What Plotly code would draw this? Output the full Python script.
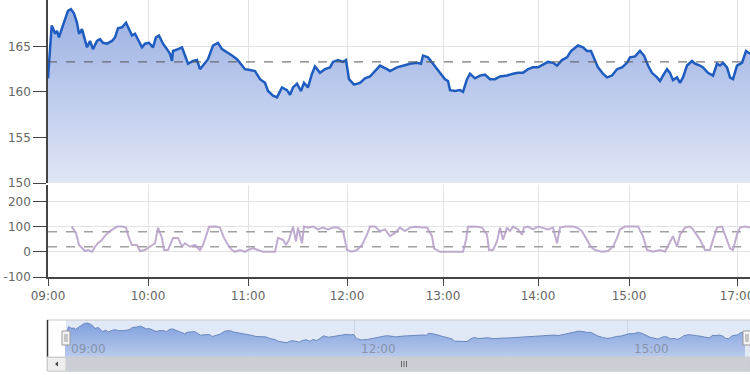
import plotly.graph_objects as go

# ---------------- data ----------------
# ordinal session position (minutes-equivalent on the ordinal time axis)
price_t = [0, 2.2, 3, 4.2, 5.4, 6.6, 8.4, 10.2, 12, 13.8,
           15.6, 17.4, 18.6, 20.4, 22.2, 23.4, 25.2, 27, 29.4, 31.2,
           33, 35.4, 38.4, 40.2, 42, 44.4, 46.8, 48, 50.4, 52.2,
           54, 56.4, 58.2, 60.6, 63, 64.8, 66.6, 69, 71.4, 73.2,
           74.4, 75, 78, 80.4, 82.2, 84, 87, 89.4, 91.2, 93,
           96, 99, 102, 104.4, 107.4, 110.4, 113.4, 116.4, 118.2, 121.2,
           124.2, 127.2, 130.2, 132, 135, 137.4, 140.4, 143.4, 145.2, 147,
           149.4, 151.8, 153.6, 156, 158.4, 160.2, 163.2, 166.2, 169.2, 171,
           174, 177, 178.8, 180.6, 183.6, 187.2, 190.2, 193.2, 196.2, 199.2,
           203.4, 205.2, 209.4, 213, 217.2, 221.4, 223.8, 225, 228, 231,
           235.2, 238.2, 240, 241.2, 244.2, 247.2, 249, 251.4, 253.2, 256.2,
           259.2, 262.2, 265.2, 268.2, 271.2, 275.4, 279, 282, 285, 288,
           291, 294, 297, 300, 303, 305.4, 308.4, 311.4, 313.8, 316.2,
           318, 321, 323.4, 325.8, 327.6, 330, 333, 335.4, 338.4, 341.4,
           344.4, 347.4, 349.2, 352.2, 355.2, 357.6, 360, 362.4, 365.4, 367.2,
           369, 371.4, 373.2, 375, 377.4, 379.2, 381, 383.4, 386.4, 388.2,
           391.2, 393, 396, 399, 401.4, 403.2, 405, 407.4, 409.2, 411,
           413.4, 416.4, 418.8, 421.2]
price_v = [161.5, 167.3, 167, 166.4, 166.7, 166, 167, 168, 168.9, 169.1,
           168.6, 167.6, 166.4, 166.9, 165.8, 164.9, 165.6, 164.7, 165.6, 165.8,
           165.4, 165.3, 165.6, 166, 167, 167.1, 167.6, 167.1, 166.2, 166.4,
           165.8, 164.9, 165.3, 165.4, 164.9, 166, 166.2, 165.3, 164.7, 164.2,
           163.4, 164.5, 164.7, 164.9, 164, 163.1, 163.4, 163.5, 162.5, 162.9,
           163.6, 165.1, 165.4, 164.7, 164.3, 164, 163.6, 162.9, 162.5, 162.4,
           162.3, 161.4, 161, 160.1, 159.6, 159.4, 160.5, 160.2, 159.7, 160.5,
           160.9, 160.1, 161, 160.5, 162, 162.8, 162.1, 162.5, 162.7, 163.3,
           163.5, 163.3, 163.5, 161.4, 160.8, 161, 161.5, 161.7, 162.3, 162.9,
           162.5, 162.3, 162.7, 162.9, 163.1, 163.2, 163.1, 164, 163.8, 163.1,
           162.1, 161.4, 161.2, 160.2, 160.1, 160.2, 160, 161.4, 162, 161.5,
           161.8, 161.9, 161.4, 161.4, 161.7, 161.8, 162, 162.1, 162.1, 162.5,
           162.7, 162.7, 163, 163.3, 163.2, 162.9, 163.5, 163.8, 164.5, 164.9,
           165.1, 164.9, 164.5, 164.5, 163.8, 162.7, 162, 161.6, 161.8, 162.5,
           162.7, 163.2, 163.8, 163.9, 164.5, 164, 162.9, 162.1, 161.6, 161.2,
           161.8, 162.5, 162.1, 161.3, 161.6, 161, 161.6, 162.9, 163.4, 163.1,
           162.9, 162.7, 162.1, 161.8, 163.1, 162.9, 163.2, 162.7, 161.6, 161.4,
           162.9, 163.2, 164.5, 164.2]

stoch_t = [14.2, 16.8, 18.6, 20.4, 22.2, 24, 26.4, 28.2, 30, 32.4,
           34.8, 37.2, 39.6, 41.4, 44.4, 46.8, 48.6, 50.4, 53.4, 55.2,
           58.2, 61.2, 64.2, 66, 68.4, 69.6, 72, 75, 78, 80.4,
           82.2, 85.2, 88.2, 91.2, 93, 94.8, 96.6, 100.8, 103.2, 105.6,
           108, 110.4, 112.2, 115.2, 118.2, 120, 123, 126, 129, 133.2,
           136.2, 138, 141, 142.8, 144.6, 147, 148.8, 150, 152.4, 153.6,
           156, 159, 162, 165, 168, 171, 174, 177, 179.4, 182.4,
           185.4, 188.4, 191.4, 193.2, 196.2,
           199.2, 202.2, 205.2, 208.2, 211.2, 214.2, 217.2, 220.2, 224.4, 227.4,
           230.4, 231.6, 235.2, 242.4, 249, 250.8, 252, 256.2, 260.4, 263.4,
           264.6, 267, 269.4, 271.2, 273, 275.4, 277.2, 279, 282, 284.4,
           285.6, 288, 291, 294, 297, 300, 303, 305.4, 307.2, 310.2,
           314.4, 317.4, 320.4, 323.4, 325.8, 328.2, 332.4, 336, 339, 341.4,
           343.2, 346.2, 350.4, 354, 357, 359.4, 363, 367.2, 370.2, 373.2,
           375, 377.4, 379.2, 382.2, 385.2, 387, 389.4, 391.2, 394.2, 397.2,
           399, 401.4, 404.4, 407.4, 409.2, 411, 413.4, 415.2, 418.2, 421.2]
stoch_v = [100, 75, 27, 14, 3, 7, 0, 20, 34, 48,
           68, 82, 93, 100, 100, 96, 55, 27, 27, 3,
           7, 20, 34, 96, 55, 7, 7, 55, 55, 20,
           34, 20, 27, 7, 27, 62, 99, 100, 96, 55,
           27, 7, 0, 7, 0, 7, 14, 7, 0, 0,
           0, 55, 48, 27, 48, 100, 41, 96, 34, 100,
           96, 100, 89, 96, 89, 96, 96, 82, 7, 0,
           7, 27, 68, 100, 100,
           82, 89, 62, 75, 96, 82, 96, 99, 96, 96,
           62, 14, 0, 0, 0, 48, 99, 100, 96, 68,
           7, 7, 41, 96, 48, 96, 82, 100, 89, 68,
           96, 100, 89, 100, 96, 89, 96, 34, 96, 100,
           100, 96, 82, 48, 20, 7, 0, 3, 20, 55,
           89, 100, 100, 100, 62, 7, 0, 7, 0, 41,
           62, 20, 68, 96, 100, 89, 68, 48, 7, 7,
           48, 96, 100, 48, 14, 7, 68, 96, 100, 96]

tick_pos = [0, 60, 120, 179.4, 237, 294, 348.6, 413.4]
tick_text = ["09:00", "10:00", "11:00", "12:00", "13:00", "14:00", "15:00", "17:00"]
nav_tick_pos = [0, 179.4, 348.6]
nav_tick_text = ["09:00", "12:00", "15:00"]

prev_close = 163.3
stoch_levels = [80, 20]
price_ticks = [150, 155, 160, 165]
stoch_ticks = [-100, 0, 100, 200]
stoch_tick_text = ["-100", "0", "100", "200"]

# ---------------- styling ----------------
FONT = "DejaVu Sans"
LBL = "#666666"
GRID = "#e3e3e3"
AX = "#444444"
W, H = 750, 375


def px(x):
    return x / W


def py(y):
    return 1 - y / H


fig = go.Figure()

fig.add_trace(go.Scatter(
    x=price_t, y=price_v, mode="lines", xaxis="x", yaxis="y",
    line=dict(color="#1f5cbf", width=2.5),
    fill="tozeroy",
    fillgradient=dict(type="vertical", start=150, stop=170,
                      colorscale=[[0, "rgb(224,230,246)"], [1, "rgb(152,174,226)"]]),
    hoverinfo="skip", showlegend=False))

fig.add_trace(go.Scatter(
    x=[0, 421.2], y=[prev_close, prev_close], mode="lines", xaxis="x", yaxis="y",
    line=dict(color="#555555", width=1, dash="dash"), hoverinfo="skip", showlegend=False))

for lv in stoch_levels:
    fig.add_trace(go.Scatter(
        x=[0, 421.2], y=[lv, lv], mode="lines", xaxis="x2", yaxis="y2",
        line=dict(color="#a0a0a0", width=1.5, dash="dash"), hoverinfo="skip", showlegend=False))

fig.add_trace(go.Scatter(
    x=stoch_t, y=stoch_v, mode="lines", xaxis="x2", yaxis="y2",
    line=dict(color="rgba(180,158,200,0.85)", width=2),
    hoverinfo="skip", showlegend=False))

# navigator series
fig.add_trace(go.Scatter(
    x=price_t, y=price_v, mode="lines", xaxis="x3", yaxis="y3",
    line=dict(color="rgb(105,135,190)", width=1),
    fill="tozeroy",
    fillgradient=dict(type="vertical", start=152.4, stop=170,
                      colorscale=[[0, "rgb(185,202,236)"], [1, "rgb(125,158,222)"]]),
    hoverinfo="skip", showlegend=False))

main_dom_x = [px(48), 1.0]
tickfont = dict(family=FONT, size=12, color=LBL)

fig.update_layout(
    width=W, height=H, margin=dict(l=0, r=0, t=0, b=0, autoexpand=False),
    paper_bgcolor="white", plot_bgcolor="white",
    xaxis=dict(domain=main_dom_x, range=[0, 421.2], anchor="y", automargin=False,
               tickvals=tick_pos, showticklabels=False, ticks="",
               showgrid=True, gridcolor=GRID, zeroline=False, showline=False),
    yaxis=dict(domain=[py(183), 1.0], range=[150, 170.1], anchor="x", automargin=False,
               tickvals=price_ticks, ticks="outside", ticklen=13, tickcolor=AX,
               showline=True, linecolor=AX, linewidth=1.5,
               showgrid=True, gridcolor=GRID, zeroline=False, tickfont=tickfont),
    xaxis2=dict(domain=main_dom_x, range=[0, 421.2], anchor="y2", automargin=False,
                tickvals=tick_pos, ticktext=tick_text, ticks="outside", ticklen=7,
                tickcolor=AX, showline=True, linecolor=AX, linewidth=1.5,
                ticklabeloverflow="allow",
                showgrid=True, gridcolor=GRID, zeroline=False, tickfont=tickfont),
    yaxis2=dict(domain=[py(277), py(185)], range=[-100, 265], anchor="x2", automargin=False,
                tickvals=stoch_ticks, ticktext=stoch_tick_text, ticks="outside", ticklen=13,
                tickcolor=AX, showline=True, linecolor=AX, linewidth=1.5,
                ticklabeloverflow="allow",
                showgrid=True, gridcolor=GRID, zeroline=False, tickfont=tickfont),
    xaxis3=dict(domain=[px(65), px(745)], range=[0, 421.2], anchor="y3", automargin=False,
                tickvals=nav_tick_pos, showticklabels=False, ticks="",
                showgrid=True, gridcolor="#cdd5e2", zeroline=False, showline=False),
    yaxis3=dict(domain=[py(357), py(320)], range=[152.4, 170.6], anchor="x3", automargin=False,
                showticklabels=False, showgrid=False, zeroline=False, ticks=""),
)

shapes = []
# navigator selected-region background
shapes.append(dict(type="rect", xref="paper", yref="paper", layer="below",
                   x0=px(66), x1=1.0, y0=py(357), y1=py(320),
                   fillcolor="rgb(226,233,246)", line=dict(width=0)))
# navigator outline
shapes.append(dict(type="line", xref="paper", yref="paper",
                   x0=px(47), x1=1.0, y0=py(320), y1=py(320),
                   line=dict(color="#c8c8c8", width=1)))
shapes.append(dict(type="line", xref="paper", yref="paper",
                   x0=px(47.5), x1=px(47.5), y0=py(357), y1=py(320),
                   line=dict(color="#333333", width=1.5)))
# scrollbar track / thumb
shapes.append(dict(type="rect", xref="paper", yref="paper",
                   x0=px(47), x1=1.0, y0=py(371), y1=py(357),
                   fillcolor="rgb(242,242,242)", line=dict(color="#d0d0d0", width=1)))
shapes.append(dict(type="rect", xref="paper", yref="paper",
                   x0=px(66), x1=1.0, y0=py(371), y1=py(357.5),
                   fillcolor="rgb(203,207,213)", line=dict(color="rgb(200,204,210)", width=1)))
# scrollbar left button
shapes.append(dict(type="rect", xref="paper", yref="paper",
                   x0=px(47.5), x1=px(66), y0=py(371), y1=py(357.5),
                   fillcolor="rgb(238,238,238)", line=dict(color="#cccccc", width=1)))
shapes.append(dict(type="path", xref="paper", yref="paper",
                   path=f"M {px(55)},{py(364)} L {px(58)},{py(361.5)} L {px(58)},{py(366.5)} Z",
                   fillcolor="#444444", line=dict(width=0)))
# scrollbar grip
for gx in (401.5, 404, 406.5):
    shapes.append(dict(type="line", xref="paper", yref="paper",
                       x0=px(gx), x1=px(gx), y0=py(367), y1=py(361),
                       line=dict(color="#666666", width=1)))
# navigator handles
for hx0, hx1 in ((62, 70), (743, 751)):
    shapes.append(dict(type="rect", xref="paper", yref="paper",
                       x0=px(hx0), x1=px(hx1), y0=py(345), y1=py(331),
                       fillcolor="#f2f2f2", line=dict(color="#999999", width=1)))
    for gx in (hx0 + 3, hx0 + 5):
        shapes.append(dict(type="line", xref="paper", yref="paper",
                           x0=px(gx), x1=px(gx), y0=py(342), y1=py(334),
                           line=dict(color="#999999", width=1)))
fig.update_layout(shapes=shapes)

annotations = []
for tp, tt in zip(nav_tick_pos, nav_tick_text):
    annotations.append(dict(x=tp, xref="x3", y=py(349), yref="paper", text=tt,
                            showarrow=False, xanchor="left", yanchor="middle", xshift=4,
                            font=dict(family=FONT, size=12, color="#8793a8")))
fig.update_layout(annotations=annotations)

fig.write_html("out.html")
